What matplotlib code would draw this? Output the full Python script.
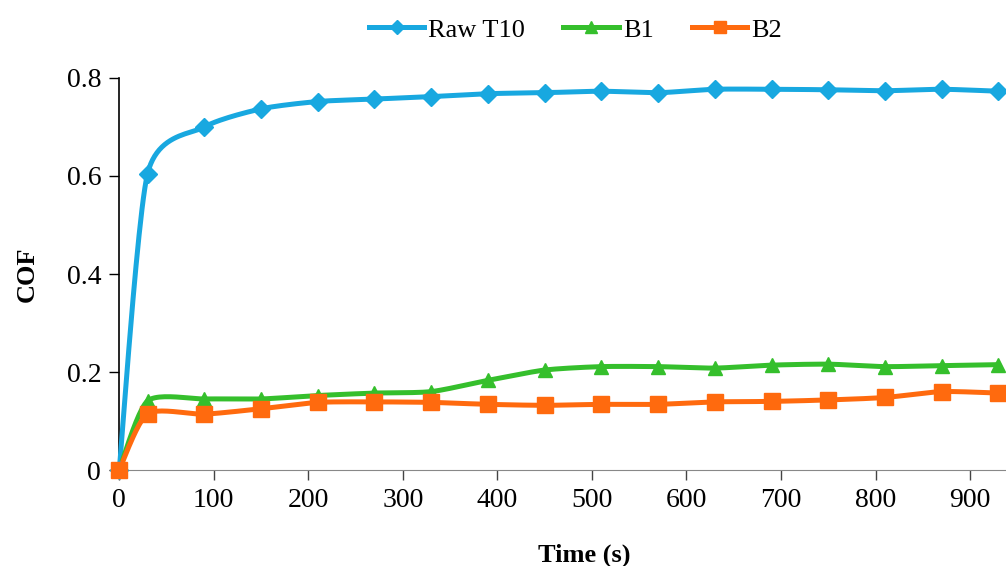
import matplotlib.pyplot as plt
import numpy as np

# data
time_s = [0, 30, 90, 150, 210, 270, 330, 390, 450, 510, 570, 630, 690, 750, 810, 870, 930]
raw_t10 = [0, 0.605, 0.700, 0.737, 0.752, 0.757, 0.762, 0.768, 0.770, 0.773, 0.770,
           0.777, 0.777, 0.776, 0.774, 0.777, 0.773]
b1 = [0, 0.141, 0.145, 0.145, 0.152, 0.157, 0.160, 0.183, 0.204, 0.211, 0.211,
      0.208, 0.214, 0.216, 0.211, 0.213, 0.215]
b2 = [0, 0.115, 0.114, 0.125, 0.138, 0.139, 0.138, 0.134, 0.132, 0.134, 0.134,
      0.139, 0.140, 0.143, 0.148, 0.160, 0.157]


def smooth(x, y, n=24, t=0.35):
    # excel-like smoothed line (cardinal spline through the points)
    x = np.asarray(x, float)
    y = np.asarray(y, float)
    px = np.concatenate([[x[0]], x, [x[-1]]])
    py = np.concatenate([[y[0]], y, [y[-1]]])
    xs, ys = [], []
    s = np.linspace(0, 1, n)
    for i in range(1, len(px) - 2):
        mx0 = t * (px[i + 1] - px[i - 1]); my0 = t * (py[i + 1] - py[i - 1])
        mx1 = t * (px[i + 2] - px[i]); my1 = t * (py[i + 2] - py[i])
        h00 = 2 * s**3 - 3 * s**2 + 1
        h10 = s**3 - 2 * s**2 + s
        h01 = -2 * s**3 + 3 * s**2
        h11 = s**3 - s**2
        xs.append(h00 * px[i] + h10 * mx0 + h01 * px[i + 1] + h11 * mx1)
        ys.append(h00 * py[i] + h10 * my0 + h01 * py[i + 1] + h11 * my1)
    return np.concatenate(xs), np.concatenate(ys)


plt.rcParams['font.family'] = ['Liberation Serif', 'DejaVu Serif']

fig = plt.figure(figsize=(10.06, 5.66), dpi=100)
ax = fig.add_axes([0.1185, 0.1696, 0.8815, 0.6926])

series = [(raw_t10, '#18a8e0', 'D', 9, 7, 'Raw T10'),
          (b1, '#35bf2c', '^', 10, 8, 'B1'),
          (b2, '#ff6a0e', 's', 12, 9, 'B2')]
for vals, col, mk, ms, lms, lab in series:
    sx, sy = smooth(time_s, vals)
    ax.plot(sx, sy, color=col, lw=3.6, clip_on=False, zorder=3)
    ax.plot(time_s, vals, color=col, lw=0, marker=mk, ms=ms, clip_on=False, zorder=4)
    ax.plot([], [], color=col, lw=3.6, marker=mk, ms=lms, label=lab)

ax.set_xlim(0, 938)
ax.set_ylim(0, 0.8)
ax.set_xticks(range(0, 901, 100))
ax.set_yticks([0, 0.2, 0.4, 0.6, 0.8])
ax.set_yticklabels(['0', '0.2', '0.4', '0.6', '0.8'])
ax.tick_params(labelsize=20, length=7, width=1, direction='out', pad=6)
ax.tick_params(axis='x', colors='#444444', labelcolor='black')

for s in ['top', 'right']:
    ax.spines[s].set_visible(False)
ax.spines['bottom'].set_color('#888888')
ax.spines['left'].set_color('black')
ax.spines['left'].set_linewidth(1.2)

ax.set_ylabel('COF', fontsize=19, fontweight='bold', labelpad=20)
ax.set_xlabel('Time (s)', fontsize=19, fontweight='bold')
ax.xaxis.set_label_coords(0.524, -0.188)

fig.legend(loc='upper center', bbox_to_anchor=(0.572, 1.01), ncol=3, frameon=False,
           fontsize=19, handlelength=2.1, columnspacing=1.45, handletextpad=0.15)

fig.savefig('out.png', dpi=100)
